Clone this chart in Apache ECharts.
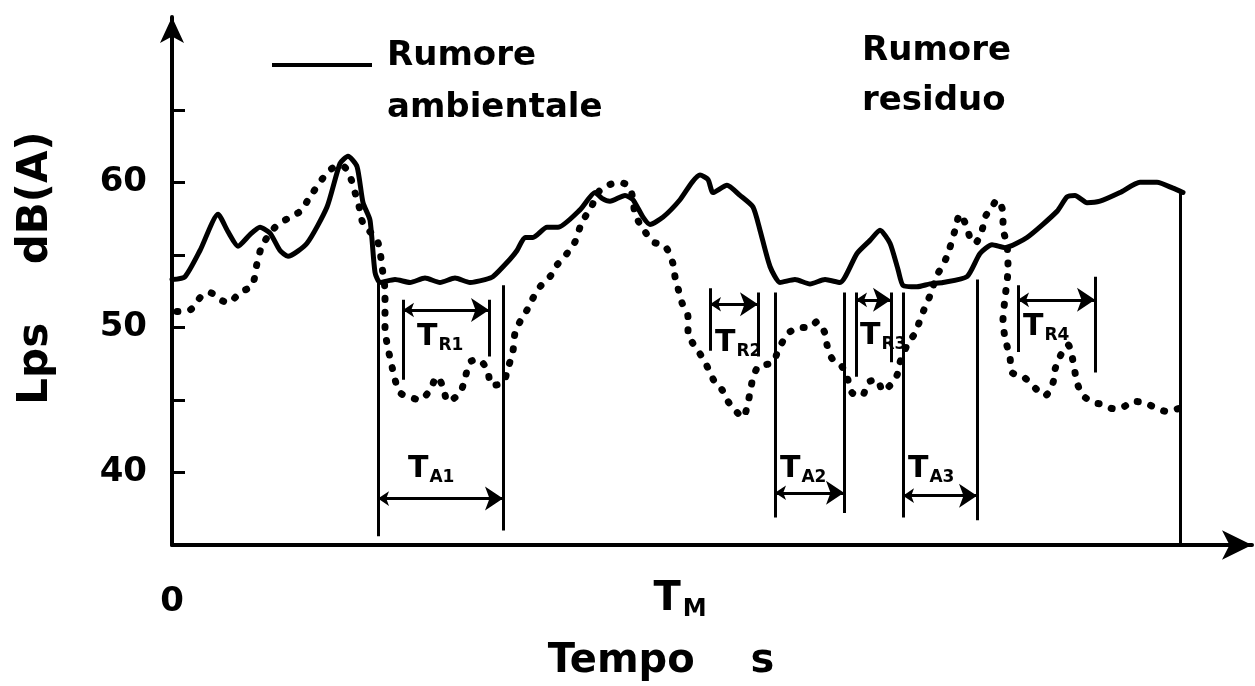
<!DOCTYPE html>
<html>
<head>
<meta charset="utf-8">
<script src="https://cdn.jsdelivr.net/npm/echarts@6/dist/echarts.min.js"></script>
<style>html,body{margin:0;padding:0;background:#fff;}#c{width:1255px;height:686px;}</style>
</head>
<body>
<div id="c"></div>
<script>
// ---- data (time in arbitrary units, level in dB(A)) ----
const rumoreAmbientale = [[0,53.3],[1.3,53.5],[2.8,55.3],[4.6,57.8],[5.6,56.6],[6.6,55.6],[7.8,56.4],[8.8,56.9],[9.8,56.5],[10.8,55.3],[11.6,54.9],[13.5,55.8],[15.5,58.3],[16.8,61.3],[17.6,61.8],[18.5,61.1],[19.1,58.6],[19.8,57.4],[20.3,53.8],[20.8,53.1],[22.3,53.3],[23.8,53.1],[25.3,53.4],[26.8,53.1],[28.3,53.4],[29.8,53.1],[31.3,53.3],[32.1,53.5],[33.8,54.7],[34.5,55.3],[35.3,56.2],[36.1,56.2],[37.5,56.9],[38.6,56.9],[40.8,58.1],[42.3,59.3],[43.0,58.9],[43.8,58.7],[45.3,59.1],[46.1,58.8],[47.1,57.6],[47.8,57.1],[49.1,57.6],[50.8,58.8],[52.0,60.0],[52.8,60.5],[53.6,60.2],[54.1,59.3],[55.5,59.8],[56.8,59.1],[58.1,58.3],[58.8,56.7],[59.8,54.2],[60.8,53.1],[62.3,53.3],[63.8,53.0],[65.3,53.3],[66.8,53.1],[68.5,55.1],[69.8,56.0],[70.8,56.7],[71.8,55.8],[72.6,54.0],[73.1,52.9],[74.5,52.8],[75.8,53.0],[77.1,53.1],[79.5,53.5],[80.8,55.1],[82.0,55.7],[83.3,55.5],[85.5,56.2],[88.5,58.0],[89.5,59.0],[90.3,59.1],[91.5,58.6],[92.8,58.7],[94.8,59.3],[96.8,60.0],[98.5,60.0],[100.1,59.6],[101.1,59.3]];

const rumoreResiduo = [[0.5,51.1],[1.8,51.2],[3.0,52.2],[3.8,52.4],[4.6,52.0],[5.6,51.7],[6.8,52.4],[8.0,52.9],[8.5,54.4],[9.0,55.6],[10.3,56.9],[11.8,57.6],[12.8,58.0],[13.8,59.0],[15.1,60.3],[16.1,61.0],[17.1,61.1],[17.8,60.4],[18.3,59.3],[18.8,58.1],[19.1,57.2],[20.5,56.0],[20.8,55.2],[21.0,54.2],[21.3,52.4],[21.3,51.4],[21.3,50.0],[21.5,48.9],[22.0,47.3],[22.3,46.4],[22.8,45.5],[23.8,45.2],[24.8,45.0],[25.8,45.7],[26.5,46.6],[27.1,45.9],[27.6,44.9],[28.8,45.5],[29.3,46.5],[29.8,47.6],[30.6,47.8],[31.5,47.1],[32.0,46.0],[33.1,46.2],[33.6,47.2],[34.1,48.4],[34.3,49.6],[34.8,50.4],[35.5,51.2],[36.0,51.9],[36.8,52.8],[37.8,53.5],[38.5,54.3],[39.5,55.1],[40.3,55.9],[40.8,56.9],[41.3,57.6],[42.0,58.4],[42.6,59.3],[43.6,59.8],[44.8,60.0],[45.8,59.6],[46.3,57.9],[46.8,57.1],[47.3,56.6],[48.1,55.9],[49.3,55.6],[50.1,54.4],[50.3,53.5],[50.6,52.7],[51.0,51.7],[51.6,50.7],[51.6,49.6],[52.0,49.0],[52.6,48.4],[53.3,47.6],[53.8,46.9],[54.3,46.2],[55.0,45.7],[55.6,44.9],[56.3,44.3],[57.1,43.8],[57.5,44.5],[57.8,45.5],[58.1,46.5],[58.6,47.3],[59.1,47.4],[60.1,47.6],[60.6,48.4],[61.3,49.3],[61.8,49.7],[62.8,50.0],[63.8,50.0],[64.5,50.4],[65.3,49.6],[65.5,48.8],[65.8,48.1],[66.3,47.6],[67.0,47.3],[67.5,46.6],[68.0,45.5],[69.0,45.3],[69.6,46.2],[70.5,46.4],[71.1,45.6],[71.8,46.0],[72.5,46.7],[72.8,47.6],[73.6,48.9],[74.3,49.6],[74.8,50.5],[75.3,51.4],[75.8,52.2],[76.5,53.6],[77.1,54.3],[77.6,55.1],[78.3,56.7],[78.8,57.8],[79.5,56.9],[79.8,56.2],[80.3,55.8],[81.0,56.7],[81.3,57.6],[82.0,58.3],[82.5,58.8],[83.1,57.9],[83.1,56.9],[83.5,55.7],[83.6,54.1],[83.3,52.0],[83.1,50.5],[83.3,49.3],[83.8,47.9],[84.0,46.9],[85.1,46.6],[85.8,46.2],[86.5,45.7],[87.3,45.3],[88.1,46.2],[88.3,47.1],[88.8,48.0],[89.6,48.8],[90.0,48.0],[90.3,46.9],[90.5,46.2],[91.1,45.3],[92.3,44.8],[93.1,44.7],[94.1,44.4],[95.1,44.5],[96.1,44.9],[97.3,44.8],[98.5,44.4],[99.6,44.2],[100.6,44.4]];

// intervals T_A / T_R
const intervalNames = ['A1','R1','R2','A2','R3','A3','R4'];
const intervalStart = [20.6, 23.1, 53.8, 60.3, 68.4, 73.1, 84.6];
const intervalEnd   = [33.1, 31.7, 58.6, 67.2, 71.9, 80.5, 92.3];
const arrowLevel    = [38.2, 51.2, 51.6, 38.6, 51.9, 38.4, 51.9];
const startTop      = [53.1, 51.9, 52.7, 52.4, 52.4, 52.4, 52.9];
const startBottom   = [35.6, 46.4, 48.4, 36.9, 46.6, 36.9, 48.3];
const endTop        = [52.9, 51.9, 52.4, 52.4, 52.4, 53.3, 53.5];
const endBottom     = [36.0, 48.0, 48.0, 37.2, 47.6, 36.7, 46.9];
const labelX        = [23.6, 24.5, 54.3, 60.8, 68.8, 73.6, 85.1];
const labelY        = [40.2, 49.3, 48.9, 40.2, 49.4, 40.2, 50.0];
const measureEnd = 100.8, measureEndTop = 59.3;

const yTickValues = [40, 45, 50, 55, 60, 65];
const yLabelValues = [40, 50, 60];
const xLabelValues = [0];

// ---- build ----
const FONT = 'DejaVu Sans';
const verticals = [];
const arrows = [];
const labels = [];
for (let i = 0; i < intervalNames.length; i++) {
  verticals.push({coords: [[intervalStart[i], startTop[i]], [intervalStart[i], startBottom[i]]]});
  verticals.push({coords: [[intervalEnd[i], endTop[i]], [intervalEnd[i], endBottom[i]]]});
  arrows.push({coords: [[intervalStart[i], arrowLevel[i]], [intervalEnd[i], arrowLevel[i]]]});
  labels.push([labelX[i], labelY[i], intervalNames[i]]);
}
verticals.push({coords: [[measureEnd, measureEndTop], [measureEnd, 35]]});

const legendRich = {
  e: {fontSize: 10, lineHeight: 34},
  a: {fontSize: 34, fontWeight: 'bold', fontFamily: FONT, color: '#000', lineHeight: 52}
};
const legendRich2 = {
  a: {fontSize: 34, fontWeight: 'bold', fontFamily: FONT, color: '#000', lineHeight: 50}
};

const chart = echarts.init(document.getElementById('c'), null, {renderer: 'canvas'});
const option = {
  animation: false,
  backgroundColor: '#ffffff',
  grid: {left: 172, right: 3, top: 17, bottom: 141},
  legend: [
    {
      data: ['Rumore ambientale'], left: 272, top: 8, padding: 0,
      icon: 'rect', itemWidth: 100, itemHeight: 4, selectedMode: false,
      formatter: n => { const p = n.split(' '); return '{e| }\n{a|' + p[0] + '}\n{a|' + p[1] + '}'; },
      textStyle: {color: '#000', rich: legendRich, padding: [0, 0, 0, 10]}
    },
    {
      data: ['Rumore residuo'], left: 857, top: 34, padding: 0,
      icon: 'none', itemWidth: 0, itemHeight: 4, selectedMode: false,
      formatter: n => { const p = n.split(' '); return '{a|' + p[0] + '}\n{a|' + p[1] + '}'; },
      textStyle: {color: '#000', rich: legendRich2}
    }
  ],
  xAxis: {
    type: 'value', min: 0, max: 108,
    axisLine: {lineStyle: {color: '#000', width: 4}, symbol: ['none', 'arrow'], symbolSize: [22, 30]},
    axisTick: {show: false},
    splitLine: {show: false},
    axisLabel: {customValues: xLabelValues, formatter: v => String(v), color: '#000', fontSize: 34, fontWeight: 'bold', fontFamily: FONT, margin: 40}
  },
  yAxis: {
    type: 'value', min: 35, max: 71.4,
    axisLine: {lineStyle: {color: '#000', width: 4}, symbol: ['none', 'arrow'], symbolSize: [18, 26]},
    axisTick: {inside: true, length: 13, lineStyle: {color: '#000', width: 3}, customValues: yTickValues},
    splitLine: {show: false},
    axisLabel: {customValues: yLabelValues, color: '#000', fontSize: 34, fontWeight: 'bold', fontFamily: FONT, margin: 25}
  },
  graphic: [
    {type: 'text', x: 36, y: 268, rotation: Math.PI / 2,
     style: {text: 'Lps    dB(A)', fontSize: 42, fontWeight: 'bold', fontFamily: FONT, fill: '#000', align: 'center', verticalAlign: 'middle'}},
    {type: 'text', x: 661, y: 662,
     style: {text: 'Tempo    s', fontSize: 40, fontWeight: 'bold', fontFamily: FONT, fill: '#000', align: 'center', verticalAlign: 'middle'}},
    {type: 'text', x: 680, y: 600,
     style: {text: '{t|T}{s|M}', align: 'center', verticalAlign: 'middle', fill: '#000',
       rich: {t: {fontSize: 40, fontWeight: 'bold', fontFamily: FONT, fill: '#000'},
              s: {fontSize: 24, fontWeight: 'bold', fontFamily: FONT, fill: '#000', padding: [20, 0, 0, 2]}}}}
  ],
  series: [
    {
      name: 'Rumore ambientale', type: 'line', data: rumoreAmbientale, symbol: 'none', smooth: 0.2,
      color: '#000', lineStyle: {color: '#000', width: 5, cap: 'round', join: 'round'}, z: 4
    },
    {
      name: 'Rumore residuo', type: 'line', data: rumoreResiduo, symbol: 'none', smooth: 0.3,
      color: '#000', lineStyle: {color: '#000', width: 7, type: [1, 13], cap: 'round'}, z: 3
    },
    {
      type: 'lines', coordinateSystem: 'cartesian2d', data: verticals, symbol: 'none',
      lineStyle: {color: '#000', width: 3, opacity: 1}, z: 5
    },
    {
      type: 'lines', coordinateSystem: 'cartesian2d', data: arrows, symbol: ['arrow', 'arrow'], symbolSize: [11, 18],
      lineStyle: {color: '#000', width: 3, opacity: 1}, z: 5
    },
    {
      type: 'scatter', data: labels, symbolSize: 0, itemStyle: {color: '#000', opacity: 1}, z: 6,
      label: {
        show: true, position: 'right', distance: 0, color: '#000', opacity: 1,
        formatter: p => '{t|T}{s|' + p.value[2] + '}',
        rich: {
          t: {fontSize: 30, fontWeight: 'bold', fontFamily: FONT, color: '#000'},
          s: {fontSize: 17, fontWeight: 'bold', fontFamily: FONT, color: '#000', padding: [16, 0, 0, 1]}
        }
      }
    }
  ]
};
chart.setOption(option);
</script>
</body>
</html>
